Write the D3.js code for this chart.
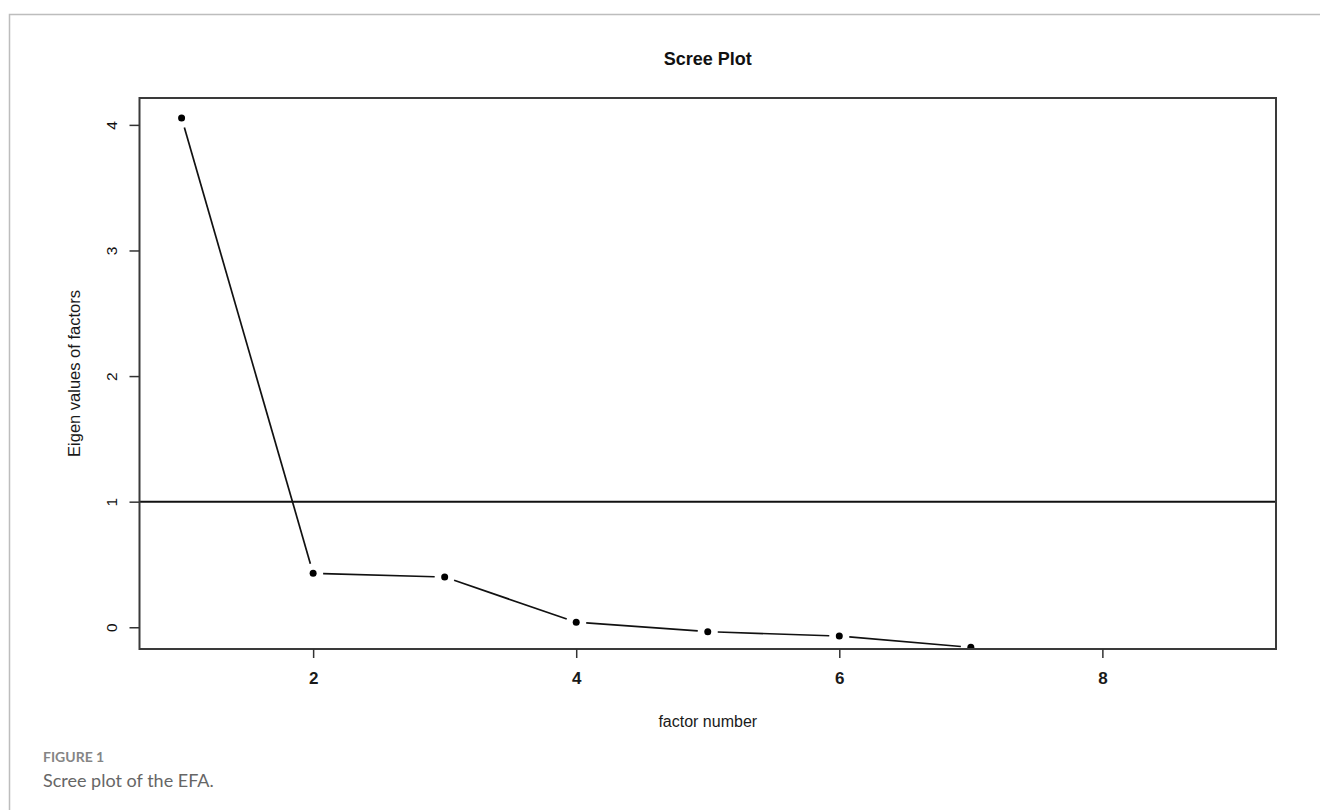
<!DOCTYPE html>
<html>
<head>
<meta charset="utf-8">
<script src="https://cdn.jsdelivr.net/npm/d3@7"></script>
<style>
  body { margin: 0; background: #fff; }
  svg { display: block; }
</style>
</head>
<body>
<div id="chart"></div>
<script>
// data (8 and 9 fall below the visible range)
var factorNumbers = [1, 2, 3, 4, 5, 6, 7, 8, 9];
var eigenValues = [4.055, 0.43, 0.40, 0.04, -0.035, -0.07, -0.16, -0.4, -0.45];
var xTicks = [2, 4, 6, 8];
var yTicks = [0, 1, 2, 3, 4];
var cutoff = [1];

var W = 1320, H = 810;
var box = {left: 139.5, right: 1276, top: 98, bottom: 649};
var rFont = "Liberation Sans, Arial, sans-serif";

var svg = d3.select("#chart").append("svg")
    .attr("width", W)
    .attr("height", H);

// outer figure frame (runs off the page to the right and bottom)
svg.append("path")
    .attr("d", "M9.5," + (H + 5) + "V14.5H" + (W + 5))
    .attr("fill", "none")
    .attr("stroke", "#bdbdbd")
    .attr("stroke-width", 1.5);

var x = d3.scaleLinear().domain([0.68, 9.32]).range([box.left, box.right]);
var y = d3.scaleLinear().domain([-0.173, 4.214]).range([box.bottom, box.top]);

svg.append("clipPath").attr("id", "plotclip")
    .append("rect")
    .attr("x", box.left)
    .attr("y", box.top)
    .attr("width", box.right - box.left)
    .attr("height", box.bottom - box.top);

var plot = svg.append("g").attr("clip-path", "url(#plotclip)");

// abline at eigen value 1
plot.selectAll("line.cut")
    .data(cutoff)
    .enter().append("line")
    .attr("class", "cut")
    .attr("x1", box.left)
    .attr("x2", box.right)
    .attr("y1", function (d) { return y(d); })
    .attr("y2", function (d) { return y(d); })
    .attr("stroke", "#111")
    .attr("stroke-width", 2);

// type="b" : segments with a gap around each point
var pts = factorNumbers.map(function (f, i) { return [x(f), y(eigenValues[i])]; });
var gap = 10;
var segs = [];
for (var i = 0; i < pts.length - 1; i++) {
    var a = pts[i], b = pts[i + 1];
    var dx = b[0] - a[0], dy = b[1] - a[1];
    var len = Math.sqrt(dx * dx + dy * dy);
    if (len <= 2 * gap) continue;
    var ux = dx / len, uy = dy / len;
    segs.push([a[0] + ux * gap, a[1] + uy * gap, b[0] - ux * gap, b[1] - uy * gap]);
}
plot.selectAll("line.seg")
    .data(segs)
    .enter().append("line")
    .attr("class", "seg")
    .attr("x1", function (d) { return d[0]; })
    .attr("y1", function (d) { return d[1]; })
    .attr("x2", function (d) { return d[2]; })
    .attr("y2", function (d) { return d[3]; })
    .attr("stroke", "#111")
    .attr("stroke-width", 1.7);

plot.selectAll("circle")
    .data(factorNumbers)
    .enter().append("circle")
    .attr("cx", function (d) { return x(d); })
    .attr("cy", function (d, i) { return y(eigenValues[i]); })
    .attr("r", 3.5)
    .attr("fill", "#000");

// plot box
svg.append("rect")
    .attr("x", box.left)
    .attr("y", box.top)
    .attr("width", box.right - box.left)
    .attr("height", box.bottom - box.top)
    .attr("fill", "none")
    .attr("stroke", "#3a3a3a")
    .attr("stroke-width", 2);

// axes
var xAxis = svg.append("g")
    .attr("transform", "translate(0," + box.bottom + ")")
    .call(d3.axisBottom(x).tickValues(xTicks).tickSize(9).tickPadding(14).tickFormat(d3.format("d")));
xAxis.select(".domain").remove();
xAxis.selectAll("line").attr("stroke", "#333").attr("stroke-width", 1.5);
xAxis.selectAll("text")
    .attr("font-family", rFont)
    .attr("font-size", 17)
    .attr("font-weight", "bold")
    .attr("fill", "#1a1a1a");

var yAxis = svg.append("g")
    .attr("transform", "translate(" + box.left + ",0)")
    .call(d3.axisLeft(y).tickValues(yTicks).tickSize(10).tickFormat(d3.format("d")));
yAxis.select(".domain").remove();
yAxis.selectAll("line").attr("stroke", "#333").attr("stroke-width", 1.5);
yAxis.selectAll("text")
    .attr("x", 0)
    .attr("dy", 0)
    .attr("text-anchor", "middle")
    .attr("transform", "translate(-28,0) rotate(-90)")
    .attr("dominant-baseline", "central")
    .attr("font-family", rFont)
    .attr("font-size", 15.5)
    .attr("fill", "#111");

// titles
var cx = (box.left + box.right) / 2;
svg.append("text")
    .attr("x", cx)
    .attr("y", 65)
    .attr("text-anchor", "middle")
    .attr("font-family", rFont)
    .attr("font-size", 18)
    .attr("font-weight", "bold")
    .attr("fill", "#111")
    .text("Scree Plot");

svg.append("text")
    .attr("x", cx)
    .attr("y", 727)
    .attr("text-anchor", "middle")
    .attr("font-family", rFont)
    .attr("font-size", 16)
    .attr("fill", "#1a1a1a")
    .text("factor number");

svg.append("text")
    .attr("transform", "translate(74," + ((box.top + box.bottom) / 2) + ") rotate(-90)")
    .attr("text-anchor", "middle")
    .attr("dominant-baseline", "central")
    .attr("font-family", rFont)
    .attr("font-size", 16.5)
    .attr("fill", "#1a1a1a")
    .text("Eigen values of factors");

// figure caption
svg.append("text")
    .attr("x", 43)
    .attr("y", 762)
    .attr("font-family", "Lato, 'Open Sans', sans-serif")
    .attr("font-size", 14)
    .attr("font-weight", "bold")
    .attr("fill", "#858585")
    .text("FIGURE 1");

svg.append("text")
    .attr("x", 43)
    .attr("y", 787)
    .attr("font-family", "Lato, 'Open Sans', sans-serif")
    .attr("font-size", 18)
    .attr("fill", "#666")
    .text("Scree plot of the EFA.");
</script>
</body>
</html>
